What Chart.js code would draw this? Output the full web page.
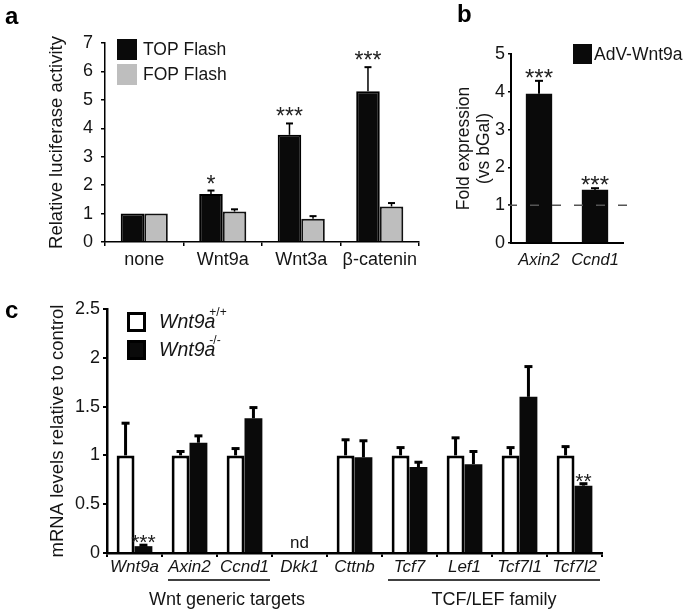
<!DOCTYPE html>
<html>
<head>
<meta charset="utf-8">
<script src="https://cdn.jsdelivr.net/npm/chart.js@4.4.1/dist/chart.umd.min.js"></script>
<style>
  html, body { margin: 0; padding: 0; background: #fff; }
  #wrap { position: relative; width: 685px; height: 610px; }
  #wrap canvas { position: absolute; left: 0; top: 0; }
</style>
</head>
<body>
<div id="wrap">
  <canvas id="chartA" width="685" height="610"></canvas>
  <canvas id="chartB" width="685" height="610"></canvas>
  <canvas id="chartC" width="685" height="610"></canvas>
</div>
<script>
// panel a - luciferase reporter
const luciferaseGroups = ['none', 'Wnt9a', 'Wnt3a', 'β-catenin'];
const topFlash = [1.0, 1.69, 3.77, 5.3];
const topFlashErr = [0, 0.12, 0.4, 0.85];
const fopFlash = [1.0, 1.07, 0.82, 1.25];
const fopFlashErr = [0, 0.08, 0.09, 0.12];
const topFlashStars = ['', '*', '***', '***'];

// panel b - AdV-Wnt9a fold expression
const advGenes = ['Axin2', 'Ccnd1'];
const advWnt9a = [3.95, 1.41];
const advWnt9aErr = [0.34, 0.04];
const advStars = ['***', '***'];
const foldBaseline = 1;

// panel c - mRNA levels
const mrnaGenes = ['Wnt9a', 'Axin2', 'Ccnd1', 'Dkk1', 'Cttnb', 'Tcf7', 'Lef1', 'Tcf7l1', 'Tcf7l2'];
const wildType = [1, 1, 1, null, 1, 1, 1, 1, 1];
const wildTypeErr = [0.33, 0.04, 0.07, null, 0.16, 0.08, 0.18, 0.08, 0.09];
const knockout = [0.07, 1.13, 1.38, null, 0.98, 0.88, 0.91, 1.6, 0.69];
const knockoutErr = [0.01, 0.07, 0.11, null, 0.17, 0.05, 0.13, 0.31, 0.02];
const knockoutStars = ['***', '', '', '', '', '', '', '', '**'];
const notDetected = ['', '', '', 'nd', '', '', '', '', ''];
const geneGroups = [
  { label: 'Wnt generic targets', first: 1, last: 2, dx: 8 },
  { label: 'TCF/LEF family', first: 5, last: 8, dx: 0 },
];

const FONT = '"Liberation Sans", Arial, Helvetica, sans-serif';
const INK = '#151515';
Chart.defaults.font.family = FONT;
Chart.defaults.color = INK;

// error bars (upward only) + significance marks
const errorBars = {
  id: 'errorBars',
  afterDatasetsDraw(chart, args, opts) {
    const ctx = chart.ctx, y = chart.scales.y, x = chart.scales.x;
    ctx.save();
    chart.data.datasets.forEach((ds, di) => {
      const meta = chart.getDatasetMeta(di);
      meta.data.forEach((bar, i) => {
        const v = ds.data[i];
        if (v == null) return;
        const e = ds.errors ? ds.errors[i] || 0 : 0;
        const top = y.getPixelForValue(v + e);
        if (e) {
          ctx.strokeStyle = '#000';
          ctx.lineWidth = opts.lineWidth;
          ctx.beginPath();
          ctx.moveTo(bar.x, bar.y);
          ctx.lineTo(bar.x, top);
          ctx.stroke();
          ctx.lineWidth = opts.capWidth;
          ctx.beginPath();
          ctx.moveTo(bar.x - opts.cap / 2, top);
          ctx.lineTo(bar.x + opts.cap / 2, top);
          ctx.stroke();
        }
        if (ds.stars && ds.stars[i]) {
          ctx.fillStyle = '#222';
          ctx.font = opts.starSize + 'px ' + FONT;
          ctx.textAlign = 'center';
          ctx.textBaseline = 'alphabetic';
          ctx.fillText(ds.stars[i], bar.x, top + opts.starShift);
        }
      });
    });
    if (opts.notes) {
      ctx.fillStyle = INK;
      ctx.font = '17px ' + FONT;
      ctx.textAlign = 'center';
      ctx.textBaseline = 'alphabetic';
      opts.notes.forEach((t, i) => {
        if (t) ctx.fillText(t, x.getPixelForValue(i), y.getPixelForValue(0) - 5);
      });
    }
    ctx.restore();
  }
};

// square legend, panel letter, reference line, group brackets
const decor = {
  id: 'decor',
  afterDraw(chart, args, o) {
    const ctx = chart.ctx;
    ctx.save();
    if (o.letter) {
      ctx.fillStyle = '#000';
      ctx.font = 'bold 24px ' + FONT;
      ctx.textAlign = 'left';
      ctx.textBaseline = 'alphabetic';
      ctx.fillText(o.letter.text, o.letter.x, o.letter.y);
    }
    if (o.legend) {
      const L = o.legend;
      chart.data.datasets.forEach((ds, i) => {
        const top = L.y + i * L.step;
        ctx.fillStyle = ds.backgroundColor;
        ctx.fillRect(L.x, top, L.w, L.h);
        if (L.border) {
          ctx.strokeStyle = '#000';
          ctx.lineWidth = L.border;
          ctx.strokeRect(L.x + L.border / 2, top + L.border / 2, L.w - L.border, L.h - L.border);
        }
        ctx.fillStyle = INK;
        ctx.font = (L.italic ? 'italic ' : '') + L.size + 'px ' + FONT;
        ctx.textAlign = 'left';
        ctx.textBaseline = 'middle';
        const tx = L.x + L.w + L.gap;
        ctx.fillText(ds.label, tx, top + L.h / 2 + 1);
        if (ds.genotype) {
          const w = ctx.measureText(ds.label).width;
          ctx.font = '12px ' + FONT;
          ctx.fillText(ds.genotype, tx + w - 6, top + 1);
        }
      });
    }
    if (o.refLine != null) {
      const y = chart.scales.y.getPixelForValue(o.refLine);
      const a = chart.chartArea;
      ctx.strokeStyle = '#555';
      ctx.lineWidth = 1.5;
      ctx.setLineDash([9, 13]);
      ctx.beginPath();
      ctx.moveTo(a.left - 3, y);
      ctx.lineTo(a.right + 6, y);
      ctx.stroke();
      ctx.setLineDash([]);
    }
    if (o.groups) {
      const x = chart.scales.x;
      const half = (x.getPixelForValue(1) - x.getPixelForValue(0)) / 2;
      o.groups.forEach(g => {
        const x0 = x.getPixelForValue(g.first) - half + 6;
        const x1 = x.getPixelForValue(g.last) + half - 2;
        ctx.strokeStyle = '#000';
        ctx.lineWidth = 1.5;
        ctx.beginPath();
        ctx.moveTo(x0, o.groupLineY);
        ctx.lineTo(x1, o.groupLineY);
        ctx.stroke();
        ctx.fillStyle = INK;
        ctx.font = '18px ' + FONT;
        ctx.textAlign = 'center';
        ctx.textBaseline = 'middle';
        ctx.fillText(g.label, (x0 + x1) / 2 + (g.dx || 0), o.groupTextY);
      });
    }
    ctx.restore();
  }
};

function axis(extra) {
  return Object.assign({
    grid: { drawOnChartArea: false, color: '#000', tickLength: 4, lineWidth: 1.5 },
    border: { color: '#000', width: 1.5 },
  }, extra);
}

const common = {
  responsive: false,
  devicePixelRatio: 1,
  animation: false,
  events: [],
};

new Chart(document.getElementById('chartA'), {
  type: 'bar',
  data: {
    labels: luciferaseGroups,
    datasets: [
      { label: 'TOP Flash', data: topFlash, errors: topFlashErr, stars: topFlashStars,
        backgroundColor: '#0a0a0a', borderColor: '#000', borderWidth: 2 },
      { label: 'FOP Flash', data: fopFlash, errors: fopFlashErr,
        backgroundColor: '#bebebe', borderColor: '#111', borderWidth: 2 },
    ],
  },
  options: Object.assign({}, common, {
    layout: { padding: { left: 0, top: 43, right: 266, bottom: 338 } },
    datasets: { bar: { categoryPercentage: 0.6, barPercentage: 1 } },
    scales: {
      x: axis({
        ticks: { font: { size: 18 }, padding: 3, color: INK, maxRotation: 0, autoSkip: false },
        afterFit: s => { s.height = 30; },
      }),
      y: axis({
        min: 0, max: 7,
        ticks: { stepSize: 1, font: { size: 18 }, padding: 8, color: INK },
        title: { display: true, text: 'Relative luciferase activity', font: { size: 18.5 }, color: INK,
                 padding: { top: 46, bottom: 0 } },
        afterFit: s => { s.width = 105; },
      }),
    },
    plugins: {
      legend: { display: false }, tooltip: { enabled: false },
      errorBars: { lineWidth: 1.5, capWidth: 2, cap: 7, starSize: 23, starShift: 1 },
      decor: {
        letter: { text: 'a', x: 5, y: 24 },
        legend: { x: 117, y: 39, step: 25, w: 20, h: 21, gap: 6, size: 17.5 },
      },
    },
  }),
  plugins: [errorBars, decor],
});

new Chart(document.getElementById('chartB'), {
  type: 'bar',
  data: {
    labels: advGenes,
    datasets: [
      { label: 'AdV-Wnt9a', data: advWnt9a, errors: advWnt9aErr, stars: advStars,
        backgroundColor: '#0a0a0a', borderWidth: 0 },
    ],
  },
  options: Object.assign({}, common, {
    layout: { padding: { left: 451, top: 54, right: 62, bottom: 342 } },
    datasets: { bar: { categoryPercentage: 0.47, barPercentage: 1 } },
    scales: {
      x: axis({
        grid: { display: false, drawTicks: false },
        border: { color: '#000', width: 2 },
        ticks: { font: { size: 16.5, style: 'italic' }, padding: 8, color: INK, maxRotation: 0, autoSkip: false },
        afterFit: s => { s.height = 25; },
      }),
      y: axis({
        min: 0, max: 5,
        grid: { drawOnChartArea: false, color: '#000', tickLength: 3, lineWidth: 1.5 },
        border: { color: '#000', width: 2 },
        ticks: { stepSize: 1, font: { size: 18 }, padding: 3, color: INK },
        title: { display: true, text: ['Fold expression', '(vs bGal)'],
                 font: { size: 17.5, lineHeight: 1.1 }, color: INK, padding: { top: 4, bottom: 0 } },
        afterFit: s => { s.width = 60; },
      }),
    },
    plugins: {
      legend: { display: false }, tooltip: { enabled: false },
      errorBars: { lineWidth: 2, capWidth: 2, cap: 8, starSize: 24, starShift: 5 },
      decor: {
        letter: { text: 'b', x: 457, y: 22 },
        legend: { x: 573, y: 44, step: 25, w: 19, h: 20, gap: 2, size: 17.5 },
        refLine: foldBaseline,
      },
    },
  }),
  plugins: [errorBars, decor],
});

new Chart(document.getElementById('chartC'), {
  type: 'bar',
  data: {
    labels: mrnaGenes,
    datasets: [
      { label: 'Wnt9a', genotype: '+/+', data: wildType, errors: wildTypeErr,
        backgroundColor: '#ffffff', borderColor: '#000', borderWidth: 3 },
      { label: 'Wnt9a', genotype: '-/-', data: knockout, errors: knockoutErr, stars: knockoutStars,
        backgroundColor: '#0a0a0a', borderWidth: 0 },
    ],
  },
  options: Object.assign({}, common, {
    layout: { padding: { left: 0, top: 309, right: 83, bottom: 32 } },
    datasets: { bar: { categoryPercentage: 0.65, barPercentage: 1 } },
    scales: {
      x: axis({
        grid: { drawOnChartArea: false, color: '#000', tickLength: 4, lineWidth: 2 },
        border: { color: '#000', width: 2.5 },
        ticks: { font: { size: 17, style: 'italic' }, padding: 0, color: INK,
                 maxRotation: 0, minRotation: 0, autoSkip: false },
        afterFit: s => { s.height = 25; },
      }),
      y: axis({
        min: 0, max: 2.5,
        grid: { drawOnChartArea: false, color: '#000', tickLength: 4, lineWidth: 2 },
        border: { color: '#000', width: 2.5 },
        ticks: { stepSize: 0.5, font: { size: 18 }, padding: 3, color: INK,
                 callback: v => String(v) },
        title: { display: true, text: 'mRNA levels relative to control', font: { size: 18.5 }, color: INK,
                 padding: { top: 47, bottom: 0 } },
        afterFit: s => { s.width = 107; },
      }),
    },
    plugins: {
      legend: { display: false }, tooltip: { enabled: false },
      errorBars: { lineWidth: 3, capWidth: 3, cap: 8, starSize: 21, starShift: 4, notes: notDetected },
      decor: {
        letter: { text: 'c', x: 5, y: 318 },
        legend: { x: 127, y: 312, step: 28, w: 19, h: 20, gap: 13, size: 19.5, italic: true, border: 3 },
        groups: geneGroups, groupLineY: 580, groupTextY: 600,
      },
    },
  }),
  plugins: [errorBars, decor],
});
</script>
</body>
</html>
